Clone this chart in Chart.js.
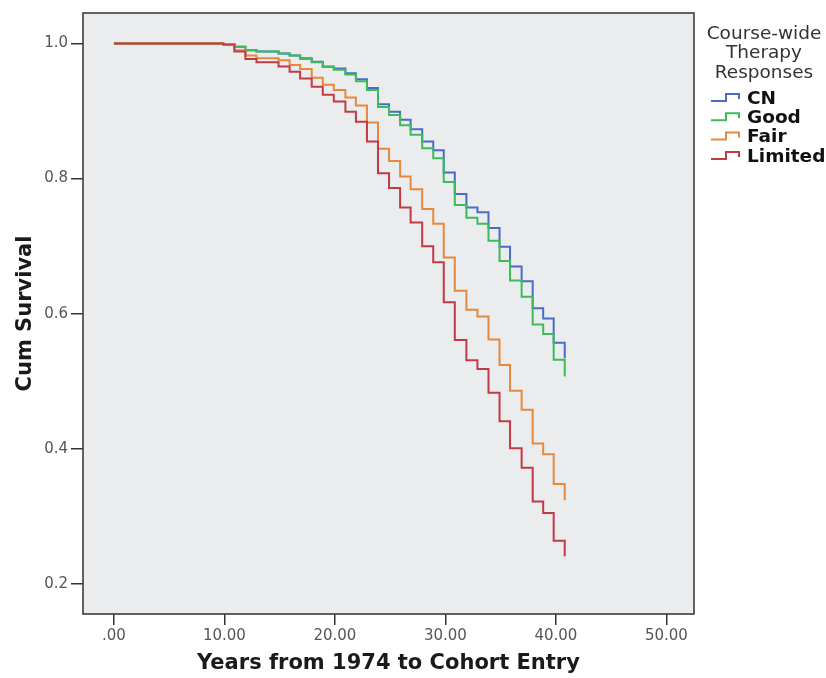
<!DOCTYPE html>
<html>
<head>
<meta charset="utf-8">
<title>Cum Survival by Course-wide Therapy Response</title>
<script src="https://cdn.jsdelivr.net/npm/chart.js@4.4.1/dist/chart.umd.min.js"></script>
<style>
  html, body { margin: 0; padding: 0; background: #fff; }
  #survivalChart { display: block; }
</style>
</head>
<body>
<canvas id="survivalChart" width="826" height="678"></canvas>
<script>
// Kaplan-Meier steps (years from 1974, cumulative survival)
const startYear = 0
const startSurvival = 1.0
const stepYears = [9.9, 10.9, 11.9, 12.9, 13.9, 14.9, 15.9, 16.85, 17.9, 18.9, 19.9, 20.95, 21.9, 22.9, 23.9, 24.9,
  25.9, 26.85, 27.9, 28.9, 29.85, 30.85, 31.9, 32.9, 33.9, 34.9, 35.85, 36.9, 37.9, 38.85, 39.8, 40.8]

const cnSurvival = [0.999, 0.995, 0.990, 0.988, 0.988, 0.985, 0.982, 0.978, 0.973, 0.966, 0.963, 0.956, 0.947, 0.934, 0.910, 0.899,
  0.887, 0.873, 0.855, 0.842, 0.809, 0.777, 0.757, 0.750, 0.727, 0.699, 0.670, 0.648, 0.608, 0.593, 0.557, 0.534]
const goodSurvival = [0.999, 0.995, 0.990, 0.988, 0.988, 0.985, 0.982, 0.977, 0.972, 0.965, 0.961, 0.954, 0.944, 0.931, 0.906, 0.894,
  0.879, 0.865, 0.845, 0.830, 0.795, 0.761, 0.742, 0.733, 0.708, 0.678, 0.649, 0.625, 0.584, 0.570, 0.532, 0.507]
const fairSurvival = [0.999, 0.990, 0.982, 0.978, 0.978, 0.975, 0.968, 0.962, 0.949, 0.939, 0.931, 0.920, 0.908, 0.883, 0.844, 0.826,
  0.803, 0.784, 0.755, 0.733, 0.683, 0.634, 0.606, 0.596, 0.562, 0.524, 0.486, 0.458, 0.408, 0.392, 0.348, 0.324]
const limitedSurvival = [0.998, 0.988, 0.977, 0.972, 0.972, 0.966, 0.958, 0.948, 0.936, 0.924, 0.914, 0.899, 0.884, 0.855, 0.808, 0.786,
  0.757, 0.735, 0.700, 0.676, 0.617, 0.561, 0.531, 0.518, 0.483, 0.441, 0.401, 0.372, 0.322, 0.305, 0.264, 0.241]

const groupNames = ["CN", "Good", "Fair", "Limited"]
const groupColors = ["#4a6bc8", "#3dbb5a", "#e6893a", "#c23a46"]

const xTickValues = [0, 10, 20, 30, 40, 50]
const xTickLabels = [".00", "10.00", "20.00", "30.00", "40.00", "50.00"]
const yTickValues = [0.2, 0.4, 0.6, 0.8, 1.0]
const yTickLabels = ["0.2", "0.4", "0.6", "0.8", "1.0"]

const legendTitle = ["Course-wide", "Therapy", "Responses"]

function toPoints(values) {
  const pts = [{ x: startYear, y: startSurvival }]
  stepYears.forEach((t, i) => pts.push({ x: t, y: values[i] }))
  return pts
}

const tickFont = { family: "DejaVu Sans", size: 15 }
const axisTitleFont = { family: "DejaVu Sans", size: 21, weight: "bold" }

// grey plot panel + frame
const plotFrame = {
  id: "plotFrame",
  beforeDraw(chart) {
    const { ctx, chartArea: a } = chart
    ctx.save()
    ctx.fillStyle = "#ffffff"
    ctx.fillRect(0, 0, chart.width, chart.height)
    ctx.fillStyle = "#ebecee"
    ctx.fillRect(a.left, a.top, a.right - a.left, a.bottom - a.top)
    ctx.restore()
  },
  afterDatasetsDraw(chart) {
    const { ctx, chartArea: a } = chart
    ctx.save()
    ctx.strokeStyle = "#3c3c3c"
    ctx.lineWidth = 1.6
    ctx.strokeRect(a.left, a.top, a.right - a.left, a.bottom - a.top)
    ctx.restore()
  },
}

// SPSS style legend with step glyphs, right of the panel
const stepLegend = {
  id: "stepLegend",
  afterDraw(chart) {
    const ctx = chart.ctx
    ctx.save()
    ctx.fillStyle = "#333"
    ctx.font = "18.5px 'DejaVu Sans'"
    ctx.textAlign = "center"
    ctx.textBaseline = "middle"
    legendTitle.forEach((line, i) => ctx.fillText(line, 764, 34 + i * 19.5))

    ctx.textAlign = "left"
    ctx.font = "bold 18.5px 'DejaVu Sans'"
    groupNames.forEach((name, i) => {
      const cy = 98 + i * 19.3
      ctx.strokeStyle = groupColors[i]
      ctx.lineWidth = 2
      ctx.beginPath()
      ctx.moveTo(711, cy + 3)
      ctx.lineTo(726, cy + 3)
      ctx.lineTo(726, cy - 4)
      ctx.lineTo(739, cy - 4)
      ctx.lineTo(739, cy + 1)
      ctx.stroke()
      ctx.fillStyle = "#111"
      ctx.fillText(name, 747, cy + 1)
    })
    ctx.restore()
  },
}

const seriesValues = [cnSurvival, goodSurvival, fairSurvival, limitedSurvival]

new Chart(document.getElementById("survivalChart"), {
  type: "line",
  data: {
    datasets: groupNames.map((name, i) => ({
      label: name,
      data: toPoints(seriesValues[i]),
      borderColor: groupColors[i],
      borderWidth: 2,
      stepped: true,
      pointRadius: 0,
      fill: false,
      order: 3 - i,
    })),
  },
  options: {
    responsive: false,
    devicePixelRatio: 1,
    animation: false,
    layout: { padding: { left: 0, top: 13, right: 132, bottom: 0 } },
    plugins: {
      legend: { display: false },
      tooltip: { enabled: false },
    },
    scales: {
      x: {
        type: "linear",
        min: -2.8,
        max: 52.5,
        afterBuildTicks: (scale) => {
          scale.ticks = xTickValues.map((v) => ({ value: v }))
        },
        afterFit: (scale) => {
          scale.height = 64
        },
        ticks: {
          color: "#555",
          font: tickFont,
          padding: 2,
          maxRotation: 0,
          autoSkip: false,
          callback: (value) => xTickLabels[xTickValues.indexOf(value)],
        },
        grid: { drawOnChartArea: false, drawTicks: true, tickLength: 11, color: "#333", lineWidth: 1.5 },
        border: { display: false },
        title: {
          display: true,
          text: "Years from 1974 to Cohort Entry",
          color: "#1a1a1a",
          font: axisTitleFont,
          padding: { top: 0, bottom: 2 },
        },
      },
      y: {
        type: "linear",
        min: 0.1556,
        max: 1.045,
        afterBuildTicks: (scale) => {
          scale.ticks = yTickValues.map((v) => ({ value: v }))
        },
        afterFit: (scale) => {
          scale.width = 83
        },
        ticks: {
          color: "#555",
          font: tickFont,
          padding: 3,
          autoSkip: false,
          callback: (value) => yTickLabels[yTickValues.indexOf(value)],
        },
        grid: { drawOnChartArea: false, drawTicks: true, tickLength: 12, color: "#333", lineWidth: 1.5 },
        border: { display: false },
        title: {
          display: true,
          text: "Cum Survival",
          color: "#1a1a1a",
          font: axisTitleFont,
          padding: { top: 13, bottom: 0 },
        },
      },
    },
  },
  plugins: [plotFrame, stepLegend],
})
</script>
</body>
</html>
